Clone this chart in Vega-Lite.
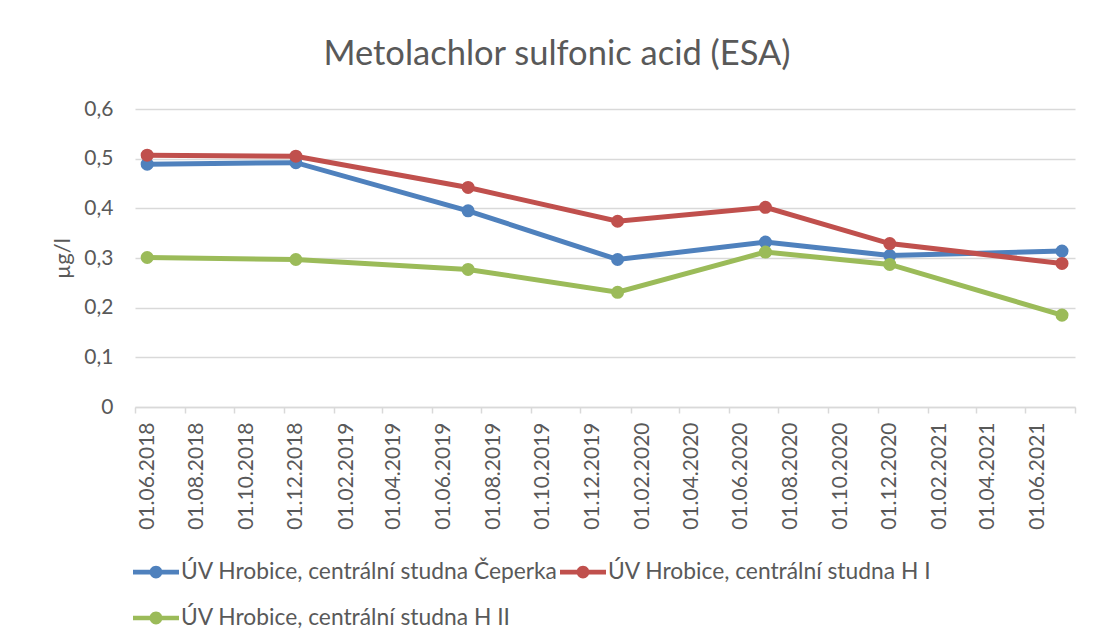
{
  "$schema": "https://vega.github.io/schema/vega-lite/v6.json",
  "width": 940,
  "height": 298,
  "autosize": "none",
  "padding": {"left": 135, "top": 109, "right": 19, "bottom": 236},
  "background": "white",
  "title": {
    "text": "Metolachlor sulfonic acid (ESA)",
    "font": "Lato",
    "fontSize": 34.5,
    "fontWeight": "normal",
    "color": "#595959",
    "anchor": "middle",
    "frame": "group",
    "dx": -48,
    "offset": 26
  },
  "data": {
    "values": [
      {"date": "2018/06/16", "series": "ÚV Hrobice, centrální studna Čeperka", "value": 0.489},
      {"date": "2018/12/16", "series": "ÚV Hrobice, centrální studna Čeperka", "value": 0.492},
      {"date": "2019/07/16", "series": "ÚV Hrobice, centrální studna Čeperka", "value": 0.395},
      {"date": "2020/01/16", "series": "ÚV Hrobice, centrální studna Čeperka", "value": 0.297},
      {"date": "2020/07/16", "series": "ÚV Hrobice, centrální studna Čeperka", "value": 0.332},
      {"date": "2020/12/16", "series": "ÚV Hrobice, centrální studna Čeperka", "value": 0.305},
      {"date": "2021/07/16", "series": "ÚV Hrobice, centrální studna Čeperka", "value": 0.314},
      {"date": "2018/06/16", "series": "ÚV Hrobice, centrální studna H I", "value": 0.507},
      {"date": "2018/12/16", "series": "ÚV Hrobice, centrální studna H I", "value": 0.505},
      {"date": "2019/07/16", "series": "ÚV Hrobice, centrální studna H I", "value": 0.442},
      {"date": "2020/01/16", "series": "ÚV Hrobice, centrální studna H I", "value": 0.374},
      {"date": "2020/07/16", "series": "ÚV Hrobice, centrální studna H I", "value": 0.402},
      {"date": "2020/12/16", "series": "ÚV Hrobice, centrální studna H I", "value": 0.329},
      {"date": "2021/07/16", "series": "ÚV Hrobice, centrální studna H I", "value": 0.289},
      {"date": "2018/06/16", "series": "ÚV Hrobice, centrální studna H II", "value": 0.301},
      {"date": "2018/12/16", "series": "ÚV Hrobice, centrální studna H II", "value": 0.297},
      {"date": "2019/07/16", "series": "ÚV Hrobice, centrální studna H II", "value": 0.277},
      {"date": "2020/01/16", "series": "ÚV Hrobice, centrální studna H II", "value": 0.231},
      {"date": "2020/07/16", "series": "ÚV Hrobice, centrální studna H II", "value": 0.312},
      {"date": "2020/12/16", "series": "ÚV Hrobice, centrální studna H II", "value": 0.287},
      {"date": "2021/07/16", "series": "ÚV Hrobice, centrální studna H II", "value": 0.185}
    ]
  },
  "encoding": {
    "x": {
      "field": "date",
      "type": "temporal",
      "scale": {
        "domain": [{"year": 2018, "month": 6, "date": 1}, {"year": 2021, "month": 8, "date": 1}],
        "nice": false
      },
      "axis": {
        "title": null,
        "grid": false,
        "format": "%d.%m.%Y",
        "values": [
          {"year": 2018, "month": 6, "date": 1}, {"year": 2018, "month": 8, "date": 1},
          {"year": 2018, "month": 10, "date": 1}, {"year": 2018, "month": 12, "date": 1},
          {"year": 2019, "month": 2, "date": 1}, {"year": 2019, "month": 4, "date": 1},
          {"year": 2019, "month": 6, "date": 1}, {"year": 2019, "month": 8, "date": 1},
          {"year": 2019, "month": 10, "date": 1}, {"year": 2019, "month": 12, "date": 1},
          {"year": 2020, "month": 2, "date": 1}, {"year": 2020, "month": 4, "date": 1},
          {"year": 2020, "month": 6, "date": 1}, {"year": 2020, "month": 8, "date": 1},
          {"year": 2020, "month": 10, "date": 1}, {"year": 2020, "month": 12, "date": 1},
          {"year": 2021, "month": 2, "date": 1}, {"year": 2021, "month": 4, "date": 1},
          {"year": 2021, "month": 6, "date": 1}, {"year": 2021, "month": 8, "date": 1}
        ],
        "labelExpr": "datum.value >= datetime(2021, 6, 15) ? '' : timeFormat(datum.value, '%d.%m.%Y')",
        "labelAngle": -90,
        "labelOffset": 12,
        "labelPadding": 9,
        "labelFont": "Lato",
        "labelFontSize": 21,
        "labelColor": "#595959",
        "labelOverlap": false,
        "labelFlush": false,
        "domainColor": "#D9D9D9",
        "domainWidth": 1.5,
        "tickColor": "#D9D9D9",
        "tickWidth": 1.5,
        "tickSize": 6
      }
    },
    "y": {
      "field": "value",
      "type": "quantitative",
      "scale": {"domain": [0, 0.6], "nice": false},
      "axis": {
        "title": "µg/l",
        "titleFont": "Lato",
        "titleFontSize": 22,
        "titleFontWeight": "normal",
        "titleColor": "#595959",
        "titlePadding": 9,
        "values": [0, 0.1, 0.2, 0.3, 0.4, 0.5, 0.6],
        "labelExpr": "datum.value == 0 ? '0' : replace(format(datum.value, '.1f'), '.', ',')",
        "labelFont": "Lato",
        "labelFontSize": 21,
        "labelColor": "#595959",
        "labelPadding": 22,
        "ticks": false,
        "domain": false,
        "grid": true,
        "gridColor": "#D9D9D9",
        "gridWidth": 1.5
      }
    },
    "color": {
      "field": "series",
      "type": "nominal",
      "scale": {
        "domain": ["ÚV Hrobice, centrální studna Čeperka", "ÚV Hrobice, centrální studna H I", "ÚV Hrobice, centrální studna H II"],
        "range": ["#4F81BD", "#C0504D", "#9BBB59"]
      },
      "legend": {
        "title": null,
        "orient": "none",
        "legendX": -2,
        "legendY": 440,
        "direction": "horizontal",
        "columns": 2,
        "columnPadding": 2,
        "rowPadding": 11,
        "symbolType": "M-1,-0.1L1,-0.1L1,0.1L-1,0.1Z M0.28,0 A0.28,0.28 0 1,1 -0.28,0 A0.28,0.28 0 1,1 0.28,0 Z",
        "symbolSize": 2116,
        "symbolStrokeWidth": 0,
        "labelFont": "Lato",
        "labelFontSize": 22.8,
        "labelColor": "#595959",
        "labelOffset": 2,
        "labelLimit": 500,
        "encode": {
          "symbols": {"update": {"fill": {"scale": "color", "field": "value"}, "fillOpacity": {"value": 1}, "strokeWidth": {"value": 0}}}
        }
      }
    }
  },
  "layer": [
    {"mark": {"type": "line", "strokeWidth": 5}},
    {"mark": {"type": "point", "filled": true, "opacity": 1, "size": 170}}
  ],
  "config": {"view": {"stroke": null}}
}
